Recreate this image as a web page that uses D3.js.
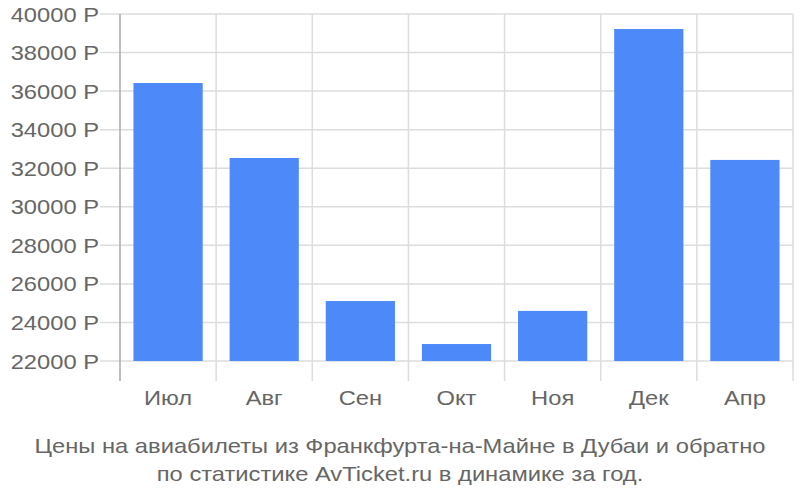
<!DOCTYPE html>
<html><head><meta charset="utf-8">
<script src="https://cdn.jsdelivr.net/npm/d3@7"></script>
<style>body{margin:0;background:#fff;} text{font-family:"Liberation Sans",Arial,sans-serif;}</style>
</head><body>
<svg id="c" width="800" height="500"></svg>
<script>
const categories = ["Июл","Авг","Сен","Окт","Ноя","Дек","Апр"];
const values = [36420, 32530, 25110, 22880, 24600, 39220, 32430];
const yTicks = [22000,24000,26000,28000,30000,32000,34000,36000,38000,40000];
const titleLines = ["Цены на авиабилеты из Франкфурта-на-Майне в Дубаи и обратно","по статистике AvTicket.ru в динамике за год."];

const svg = d3.select("#c");
const L=120, R=793, T=14, B=361, axisBottom=381;
const x = d3.scaleBand().domain(categories).range([L,R]).paddingInner(0.28).paddingOuter(0.14);
const xb = d3.scaleBand().domain(categories).range([L,R]);
const y = d3.scaleLinear().domain([22000,40000]).range([B,T]);

svg.append("g").selectAll("line").data(yTicks).join("line")
  .attr("x1",100).attr("x2",R).attr("y1",d=>y(d)).attr("y2",d=>y(d))
  .attr("stroke","#dddddd").attr("stroke-width",1.5);
const vx = categories.map(c=>xb(c)).concat([R]);
svg.append("g").selectAll("line").data(vx.slice(1)).join("line")
  .attr("x1",d=>d).attr("x2",d=>d).attr("y1",T).attr("y2",axisBottom)
  .attr("stroke","#dddddd").attr("stroke-width",1.5);
svg.append("line").attr("x1",L).attr("x2",L).attr("y1",T).attr("y2",axisBottom)
  .attr("stroke","#aaaaaa").attr("stroke-width",1.5);

svg.append("g").selectAll("rect").data(values).join("rect")
  .attr("x",(d,i)=>x(categories[i])).attr("width",x.bandwidth())
  .attr("y",d=>y(d)).attr("height",d=>B-y(d))
  .attr("fill","#4d89f9");

const col="#666666", fs=21, sx=1.13;
svg.append("g").selectAll("text").data(yTicks).join("text")
  .attr("transform",d=>`translate(99,${y(d)}) scale(${sx},1)`).attr("dy","0.36em").attr("text-anchor","end")
  .attr("font-size",fs).attr("fill",col).text(d=>d+" Р");
svg.append("g").selectAll("text").data(categories).join("text")
  .attr("transform",d=>`translate(${xb(d)+xb.bandwidth()/2},405) scale(${sx},1)`).attr("text-anchor","middle")
  .attr("font-size",fs).attr("fill",col).text(d=>d);
svg.append("g").selectAll("text").data(titleLines).join("text")
  .attr("transform",(d,i)=>`translate(400,${453+i*28}) scale(${sx},1)`).attr("text-anchor","middle")
  .attr("font-size",fs).attr("fill",col).text(d=>d);
</script>
</body></html>
